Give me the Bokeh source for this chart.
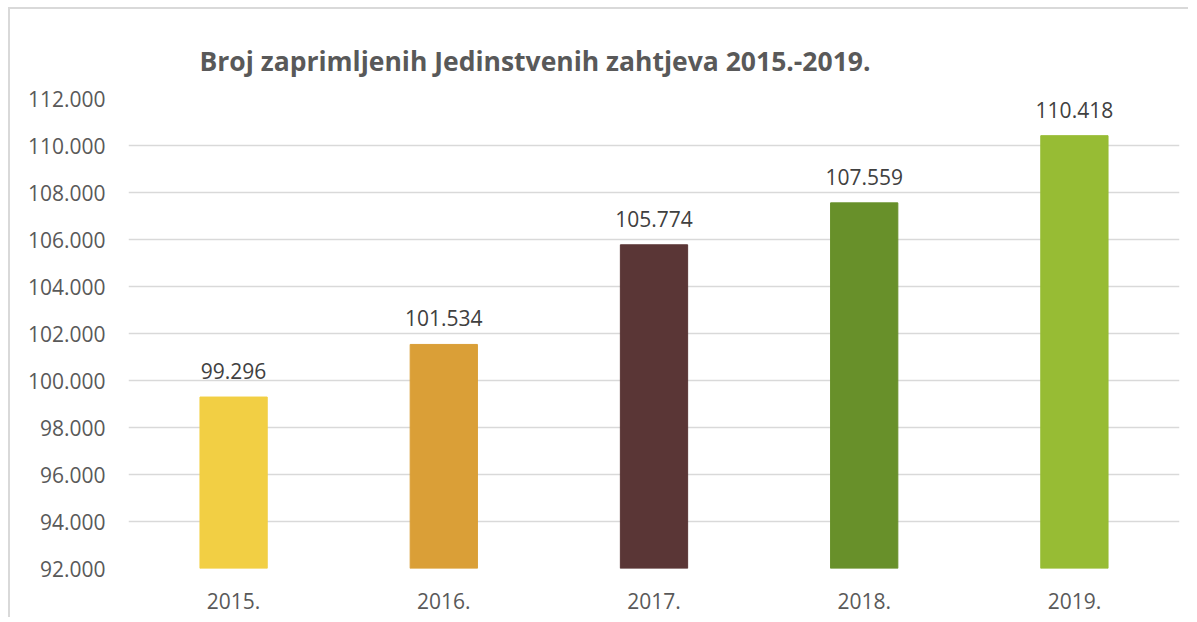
from bokeh.plotting import figure
from bokeh.models import ColumnDataSource, FixedTicker, LabelSet, Title
from bokeh.core.properties import value
from bokeh.embed import file_html
from bokeh.resources import INLINE

years = ["2015.", "2016.", "2017.", "2018.", "2019."]
counts = [99296, 101534, 105774, 107559, 110418]
colors = ["#F2CF44", "#DA9F37", "#5A3636", "#68902A", "#97BC34"]
y_ticks = [92000, 94000, 96000, 98000, 100000, 102000, 104000, 106000, 108000, 110000, 112000]
title_text = "Broj zaprimljenih Jedinstvenih zahtjeva 2015.-2019."


def fmt(v):
    return f"{v:,}".replace(",", ".")


src = ColumnDataSource(dict(
    year=years, count=counts, color=colors, label=[fmt(v) for v in counts]
))

p = figure(
    x_range=years, y_range=(92000, 112000),
    width=1180, height=610,
    output_backend="svg", toolbar_location=None,
    min_border_left=118, min_border_right=11, min_border_top=89, min_border_bottom=51,
)
p.styles = {"border-left": "2px solid #D9D9D9", "border-top": "2px solid #D9D9D9",
            "margin-left": "8px", "margin-top": "7px"}

p.title = Title(text=title_text, align="left", offset=71, standoff=40,
                text_font="Open Sans", text_font_size="26.5px", text_font_style="bold",
                text_color="#595959")

p.vbar(x="year", top="count", bottom=92000, width=0.32, color="color", source=src)

labels = LabelSet(x="year", y="count", text="label", source=src, y_offset=18,
                  text_align="center", text_baseline="alphabetic",
                  text_font=value("Open Sans"), text_font_size="21px", text_color="#404040")
p.add_layout(labels)

p.outline_line_color = None
p.background_fill_color = "white"
p.border_fill_color = "white"

p.xgrid.grid_line_color = None
p.ygrid.ticker = FixedTicker(ticks=y_ticks)
p.ygrid.grid_line_color = "#D9D9D9"
p.ygrid.grid_line_width = 1.5

p.yaxis.ticker = FixedTicker(ticks=y_ticks)
p.yaxis.major_label_overrides = {t: fmt(t) for t in y_ticks}
for ax in (p.xaxis[0], p.yaxis[0]):
    ax.axis_line_color = None
    ax.major_tick_line_color = None
    ax.minor_tick_line_color = None
    ax.major_tick_out = 0
    ax.major_tick_in = 0
    ax.major_label_text_font = "Open Sans"
    ax.major_label_text_font_size = "21px"
    ax.major_label_text_color = "#595959"
p.yaxis.major_label_standoff = 23
p.xaxis.major_label_standoff = 24

open("out.html", "w").write(file_html(p, INLINE))
